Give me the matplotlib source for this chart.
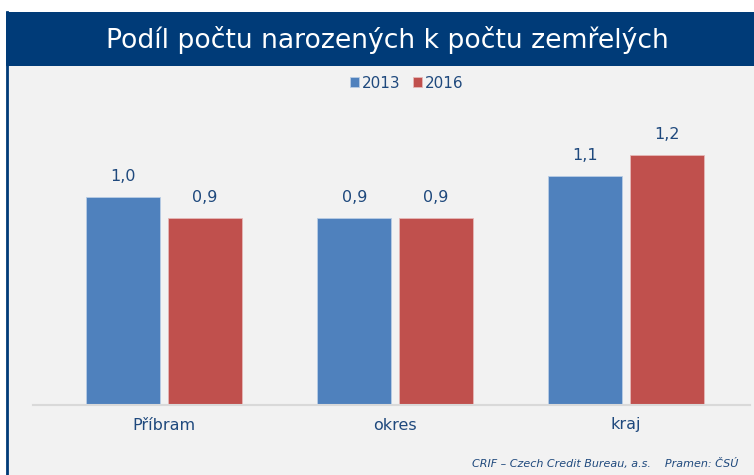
import matplotlib.pyplot as plt
import numpy as np
from matplotlib.patches import Rectangle

categories = ['Příbram', 'okres', 'kraj']
years = ['2013', '2016']
values_2013 = [1.0, 0.9, 1.1]
values_2016 = [0.9, 0.9, 1.2]

W, H = 754, 475
fig = plt.figure(figsize=(W / 100, H / 100), dpi=100)
fig.patch.set_facecolor('white')

dark = '#1f497d'
navy = '#003b78'

# background panel + header band
fig.add_artist(Rectangle((6 / W, 0), 1, 1 - 66 / H, transform=fig.transFigure,
                         facecolor='#f2f2f2', edgecolor='none', zorder=0))
fig.add_artist(Rectangle((6 / W, 1 - 66 / H), 1, 54 / H, transform=fig.transFigure,
                         facecolor=navy, edgecolor='none', zorder=0))
fig.add_artist(plt.Line2D([6.5 / W, 6.5 / W], [0, 1 - 12 / H], transform=fig.transFigure,
                          color=navy, lw=2, zorder=1))
fig.text(387 / W, 1 - 40 / H, 'Podíl počtu narozených k počtu zemřelých',
         ha='center', va='center', color='white', fontsize=19.2, family='DejaVu Sans')

# axes: baseline at y=405, x from 33 to 750
ax_left, ax_right = 33 / W, 750 / W
ax_bottom, ax_top = 1 - 405 / H, 1 - 100 / H
ax = fig.add_axes([ax_left, ax_bottom, ax_right - ax_left, ax_top - ax_bottom])
ax.set_facecolor('none')

px_per_unit = 208
ax.set_ylim(0, 305 / px_per_unit)
ax.set_xlim((33 - 164) / 231, (750 - 164) / 231)

x = np.arange(len(categories))
bw = 0.32
off = 0.176
b1 = ax.bar(x - off, values_2013, bw, color='#4f81bd', edgecolor='#b9cde5', lw=0.6, label=years[0])
b2 = ax.bar(x + off, values_2016, bw, color='#c0504d', edgecolor='#e6b9b8', lw=0.6, label=years[1])

for bars, vals in [(b1, values_2013), (b2, values_2016)]:
    for rect, v in zip(bars, vals):
        ax.annotate(f'{v:.1f}'.replace('.', ','),
                    (rect.get_x() + rect.get_width() / 2, rect.get_height()),
                    xytext=(0, 9.5), textcoords='offset points',
                    ha='center', va='bottom', color=dark, fontsize=11.5)

ax.set_xticks(x)
ax.set_xticklabels(categories, color=dark, fontsize=11.5)
ax.tick_params(axis='x', length=0, pad=9)
ax.set_yticks([])
for s in ['top', 'right', 'left']:
    ax.spines[s].set_visible(False)
ax.spines['bottom'].set_color('#d9d9d9')
ax.spines['bottom'].set_linewidth(1.5)

leg = fig.legend(handles=[b1, b2], labels=years, loc='center', bbox_to_anchor=(407 / W, 1 - 83 / H),
                 ncol=2, frameon=False, fontsize=11, handlelength=0.6, handleheight=0.6,
                 handletextpad=0.2, columnspacing=0.8)
for t in leg.get_texts():
    t.set_color(dark)

fig.text(738 / W, 1 - 463 / H, 'CRIF – Czech Credit Bureau, a.s.    Pramen: ČSÚ',
         ha='right', va='center', color=dark, fontsize=8, style='italic')

fig.savefig('out.png', dpi=100)
